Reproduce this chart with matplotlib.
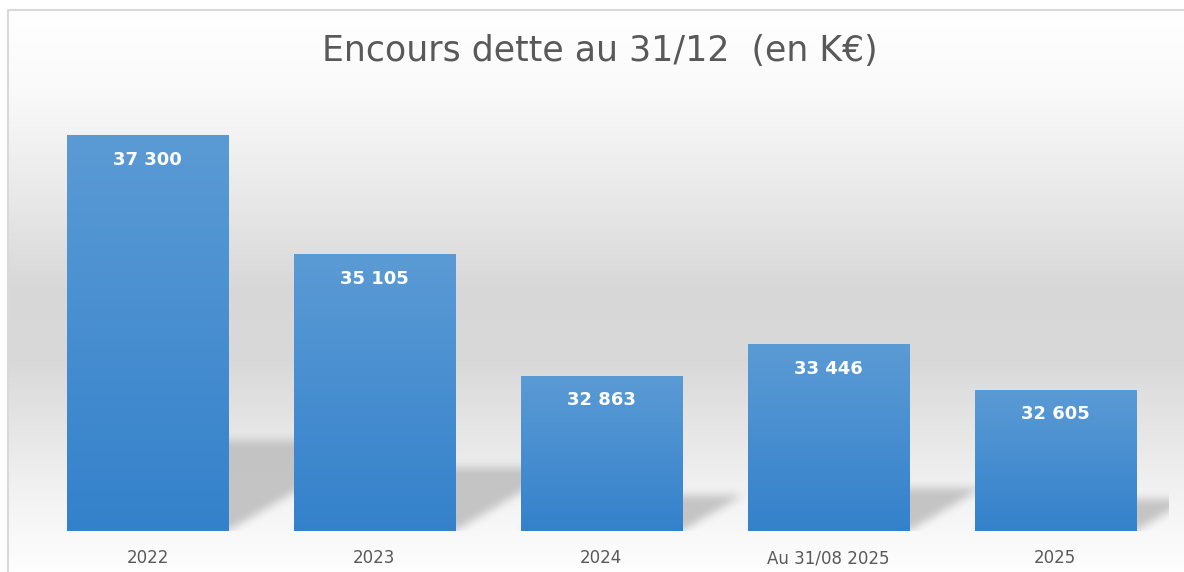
import numpy as np
import matplotlib
matplotlib.use("Agg")
import matplotlib.pyplot as plt
from matplotlib.path import Path
from matplotlib.colors import LinearSegmentedColormap

categories = ["2022", "2023", "2024", "Au 31/08 2025", "2025"]
values = [37300, 35105, 32863, 33446, 32605]
title = "Encours dette au 31/12  (en K€)"

W, H = 1184, 572
fig = plt.figure(figsize=(W / 100, H / 100), dpi=100)
bg = fig.add_axes([0, 0, 1, 1], zorder=0)
bg.set_axis_off()
ax = fig.add_axes([34 / W, 41 / H, 1134.5 / W, 433.6 / H], zorder=1)
ax.patch.set_alpha(0)
ax.set_xlim(-0.5, len(values) - 0.5)
ax.set_ylim(30000, 38000)

x = np.arange(len(values))
bars = ax.bar(x, values, width=0.71, color="#4a8fd1", zorder=2)

# gradient fill inside each bar
bar_cmap = LinearSegmentedColormap.from_list("bar", ["#3481cb", "#5b9bd5"])
grad = np.linspace(0, 1, 256).reshape(-1, 1)
y0 = ax.get_ylim()[0]
for b in bars:
    im = ax.imshow(grad, cmap=bar_cmap, origin="lower", aspect="auto",
                   extent=[b.get_x(), b.get_x() + b.get_width(), y0, b.get_height()],
                   zorder=3)
    im.set_clip_path(b)
ax.set_xlim(-0.5, len(values) - 0.5)
ax.set_ylim(30000, 38000)

# background: vertical grey gradient inside the chart frame
rows = np.arange(H)[::-1]  # display row -> image row from top
stops_y = [10, 90, 200, 290, 360, 440, 500, 560, 572]
stops_v = [1.0, 0.98, 0.91, 0.845, 0.85, 0.91, 0.955, 0.99, 1.0]
col = np.interp(rows, stops_y, stops_v)
img = np.repeat(col[:, None], W, axis=1)

# perspective shadows behind bars
gx, gy = np.meshgrid(np.arange(W) + 0.5, np.arange(H) + 0.5)
pts = np.column_stack([gx.ravel(), gy.ravel()])
mask = np.zeros(H * W)
for b in bars:
    (px0, py0) = ax.transData.transform((b.get_x(), y0))
    (px1, pyt) = ax.transData.transform((b.get_x() + b.get_width(), b.get_height()))
    hs = 0.23 * (pyt - py0)
    dx = 1.7 * hs
    poly = Path([(px0, py0), (px1, py0), (px1 + dx, py0 + hs), (px0 + dx, py0 + hs)])
    mask = np.maximum(mask, poly.contains_points(pts))
mask = mask.reshape(H, W)


def box_blur(a, r):
    for axis in (0, 1):
        pad = [(0, 0), (0, 0)]
        pad[axis] = (r + 1, r)
        c = np.cumsum(np.pad(a, pad, mode="edge"), axis=axis)
        if axis == 0:
            a = (c[2 * r + 1:] - c[:-2 * r - 1]) / (2 * r + 1)
        else:
            a = (c[:, 2 * r + 1:] - c[:, :-2 * r - 1]) / (2 * r + 1)
    return a


mask = box_blur(box_blur(mask, 5), 4)
(ax_l, ax_b), (ax_r, ax_t) = ax.transAxes.transform([(0, 0), (1, 1)])
mask[gy < ax_b] = 0
mask[gx > ax_r] = 0
img = img * (1 - 0.95 * mask) + 0.76 * 0.95 * mask

# white outside the frame
img[gy > H - 10] = 1.0
img[gx < 7] = 1.0
rgb = np.dstack([img, img, img])
bg.imshow(rgb, origin="lower", extent=[0, W, 0, H], interpolation="nearest")
bg.set_xlim(0, W)
bg.set_ylim(0, H)
bg.plot([7.5, 7.5, W], [0, H - 10, H - 10], color="#d9d9d9", lw=1.5)

# labels
for b, v in zip(bars, values):
    ax.annotate(f"{v:,}".replace(",", " "), (b.get_x() + b.get_width() / 2, v),
                xytext=(0, -17.5), textcoords="offset points", ha="center", va="center",
                color="white", fontsize=13, fontweight="bold", family="DejaVu Sans",
                zorder=5)

ax.set_xticks(x)
ax.set_xticklabels(categories, fontsize=12, color="#595959")
ax.tick_params(axis="x", length=0, pad=13)
ax.set_yticks([])
for s in ax.spines.values():
    s.set_visible(False)

fig.text(600 / W, 1 - 51 / H, title, ha="center", va="center", fontsize=25,
         color="#595959", family="DejaVu Sans")

fig.savefig("out.png", dpi=100)
